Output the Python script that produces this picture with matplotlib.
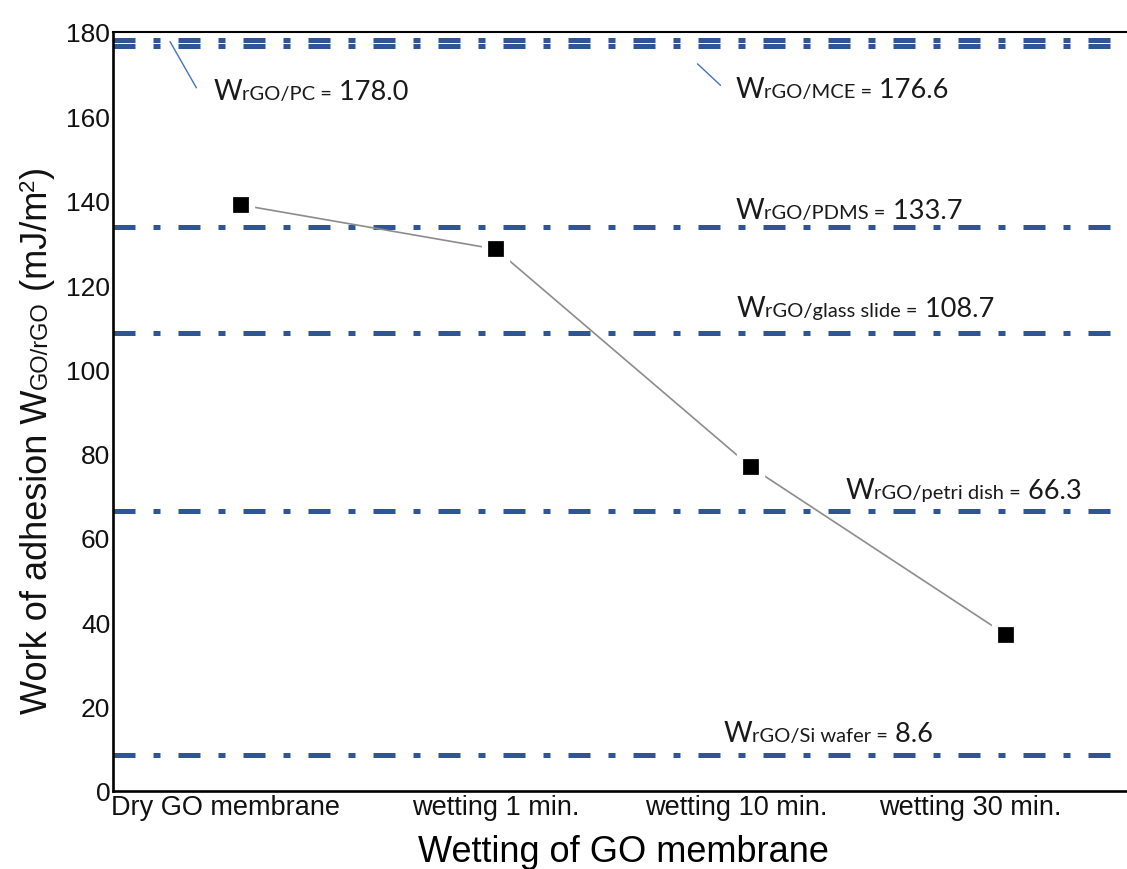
import matplotlib
matplotlib.use("Agg")
import matplotlib.pyplot as plt
from matplotlib.transforms import ScaledTranslation

conditions = ["Dry GO membrane", "wetting 1 min.", "wetting 10 min.", "wetting 30 min."]
adhesion = [139.0, 128.5, 76.8, 37.0]

substrates = ["PC", "MCE", "PDMS", "glass slide", "petri dish", "Si wafer"]
substrate_w = [178.0, 176.6, 133.7, 108.7, 66.3, 8.6]

yticks = list(range(0, 181, 20))

# layout: label anchors (left edge, baseline) and tick label centres
label_x = [-0.106, 1.939, 1.939, 1.943, 2.370, 1.892]
label_y = [164.1, 164.6, 135.9, 112.6, 69.5, 11.9]
tick_pos = [-0.06, 1.0, 1.94, 2.86]
leaders = {0: ((-0.282, 178.3), (-0.168, 166.2)),
           1: ((1.782, 172.9), (1.888, 166.9))}

AXIS_FONT = "Liberation Sans"
NOTE_FONT = "Lato"
BLUE = "#2f5597"

fig = plt.figure(figsize=(11.27, 8.70), dpi=100)
ax = fig.add_axes([113 / 1127, 78 / 870, 1021 / 1127, 759 / 870])
renderer = fig.canvas.get_renderer()
dpi = fig.dpi


def draw_pieces(x, y, pieces, transform, family, vertical=False, center=False, color="black"):
    # pieces: (text, fontsize, rise_px) laid end to end on one baseline
    widths = []
    for s, size, rise in pieces:
        t = fig.text(0, 0, s, fontsize=size, family=family)
        widths.append(t.get_window_extent(renderer).width)
        t.remove()
    pos = -sum(widths) / 2 if center else 0.0
    for (s, size, rise), w in zip(pieces, widths):
        if vertical:
            off = ScaledTranslation(-rise / dpi, pos / dpi, fig.dpi_scale_trans)
        else:
            off = ScaledTranslation(pos / dpi, rise / dpi, fig.dpi_scale_trans)
        fig.text(x, y, s, fontsize=size, family=family, color=color,
                 transform=transform + off, rotation=90 if vertical else 0,
                 rotation_mode="anchor", ha="left", va="baseline")
        pos += w


# substrate reference levels
for w in substrate_w:
    ax.axhline(w, color=BLUE, lw=3.6, linestyle=(0, (4.4, 3.6, 1.4, 3.6)),
               dash_capstyle="butt", zorder=2)

for i, (name, w) in enumerate(zip(substrates, substrate_w)):
    draw_pieces(label_x[i], label_y[i],
                [("W", 20, 0), (f"rGO/{name} =", 14.5, 0), (f" {w:.1f}", 19.5, 0)],
                ax.transData, NOTE_FONT, color="#1a1a1a")
    if i in leaders:
        (x0, y0), (x1, y1) = leaders[i]
        ax.annotate("", xy=(x0, y0), xytext=(x1, y1),
                    arrowprops=dict(arrowstyle="-", color="#4472c4", lw=1))

ax.plot(range(len(conditions)), adhesion, color="#8c8c8c", lw=1.2,
        marker="s", ms=15.5, mfc="black", mec="white", mew=4.5, zorder=3)

ax.set_xlim(-0.5, 3.5)
ax.set_ylim(0, 180)
ax.set_yticks(yticks)
ax.set_xticks(tick_pos)
ax.set_xticklabels(conditions, family=AXIS_FONT, fontsize=19.5)
ax.set_yticklabels([str(v) for v in yticks], family=AXIS_FONT, fontsize=19)
ax.tick_params(length=0, pad=2, colors="#111111")

ax.spines["right"].set_visible(False)
for side in ("left", "bottom"):
    ax.spines[side].set_linewidth(1.9)
ax.spines["top"].set_linewidth(1.5)

ax.set_xlabel("Wetting of GO membrane", family=AXIS_FONT, fontsize=26, labelpad=10)

draw_pieces(47 / 1127, 430 / 870,
            [("Work of adhesion W", 26, 0), ("GO/rGO", 17, 0),
             (" (mJ/m", 26, 0), ("2", 16, 13), (")", 26, 0)],
            fig.transFigure, AXIS_FONT, vertical=True, center=True, color="#111111")

fig.savefig("out.png", dpi=100)
